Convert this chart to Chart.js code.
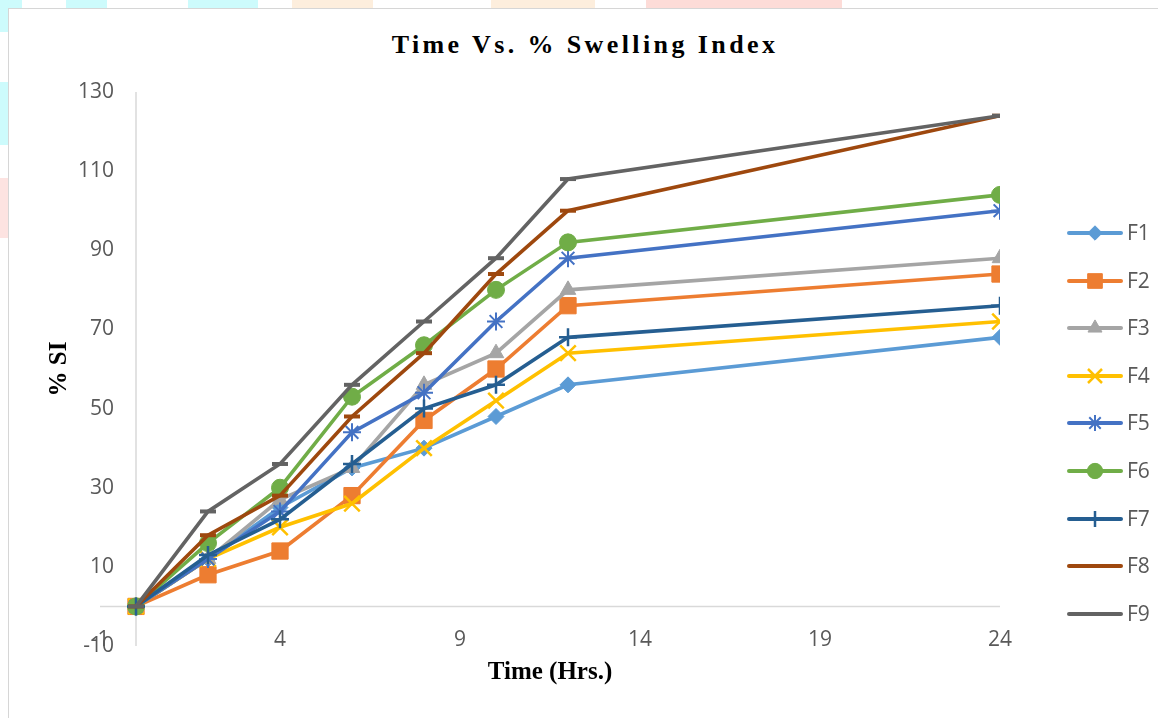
<!DOCTYPE html>
<html>
<head>
<meta charset="utf-8">
<script src="https://cdn.jsdelivr.net/npm/chart.js@4.4.0/dist/chart.umd.min.js"></script>
<style>
  body { margin: 0; background: #fff; width: 1158px; height: 718px; overflow: hidden; position: relative; }
  .strip { position: absolute; }
  #frame { position: absolute; left: 8px; top: 8px; width: 1170px; height: 730px; border: 1px solid #d6d6d6; background: #fff; }
  #titulo { position: absolute; left: 0; top: 30px; width: 1170px; text-align: center; line-height: 30px;
            font: bold 26px "Liberation Serif", "Times New Roman", serif; letter-spacing: 3.4px; color: #000; }
  #grafico { position: absolute; left: 0; top: 0; }
  #legenda { position: absolute; left: 1066px; top: 0; }
  .item { position: absolute; left: 0; height: 24px; width: 92px; }
  .item canvas { position: absolute; left: 0; top: 1px; }
  .item span { position: absolute; left: 61px; top: -3px; font: 21px "Open Sans", sans-serif; color: #595959; }
</style>
</head>
<body>
<div class="strip" style="left:0;top:0;width:22px;height:8px;background:#cdfbfc"></div>
<div class="strip" style="left:66px;top:0;width:41px;height:8px;background:#cdfbfc"></div>
<div class="strip" style="left:188px;top:0;width:70px;height:8px;background:#cdfbfc"></div>
<div class="strip" style="left:292px;top:0;width:81px;height:8px;background:#fdeedd"></div>
<div class="strip" style="left:491px;top:0;width:104px;height:8px;background:#fdeedd"></div>
<div class="strip" style="left:646px;top:0;width:196px;height:8px;background:#fddcd8"></div>
<div class="strip" style="left:0;top:0;width:8px;height:32px;background:#cdfbfc"></div>
<div class="strip" style="left:0;top:82px;width:8px;height:63px;background:#cdfbfc"></div>
<div class="strip" style="left:0;top:178px;width:8px;height:60px;background:#fde3e1"></div>
<div id="frame"></div>
<div id="titulo">Time Vs. % Swelling Index</div>
<canvas id="grafico" width="1158" height="718"></canvas>
<div id="legenda"></div>
<script>
// Dados (tempo em horas x % SI)
const tempos = [0, 2, 4, 6, 8, 10, 12, 24];
const nomes = ["F1", "F2", "F3", "F4", "F5", "F6", "F7", "F8", "F9"];
const F1 = [0, 12, 25, 35, 40, 48, 56, 68];
const F2 = [0, 8, 14, 28, 47, 60, 76, 84];
const F3 = [0, 12, 27, 35, 56, 64, 80, 88];
const F4 = [0, 12, 20, 26, 40, 52, 64, 72];
const F5 = [0, 12, 24, 44, 54, 72, 88, 100];
const F6 = [0, 16, 30, 53, 66, 80, 92, 104];
const F7 = [0, 13, 22, 36, 50, 56, 68, 76];
const F8 = [0, 18, 28, 48, 64, 84, 100, 124];
const F9 = [0, 24, 36, 56, 72, 88, 108, 124];
const series = [F1, F2, F3, F4, F5, F6, F7, F8, F9];
const xTicks = [-1, 4, 9, 14, 19, 24];
const yTicks = [-10, 10, 30, 50, 70, 90, 110, 130];

// Estilo de cada série
const cores = ["#5B9BD5", "#ED7D31", "#A5A5A5", "#FFC000", "#4472C4", "#70AD47", "#255E91", "#9E480E", "#636363"];
const marcadores = ["rectRot", "rect", "triangle", "crossRot", "star", "circle", "cross", "line", "line"];
const raios = [8, 11.5, 9, 11, 9, 8.5, 9, 8, 8];
const bordas = [1, 1, 1, 2.5, 2, 1, 2.5, 4, 4];

const datasets = series.map((vals, i) => ({
    label: nomes[i],
    data: vals.map((v, j) => ({ x: tempos[j], y: v })),
    showLine: true,
    borderColor: cores[i],
    backgroundColor: cores[i],
    borderWidth: 3.6,
    pointStyle: marcadores[i],
    pointRadius: raios[i],
    pointBorderWidth: bordas[i],
    pointBackgroundColor: cores[i],
    pointBorderColor: cores[i],
    order: nomes.length - i
}));

// Linhas dos eixos em x=0 e y=0 (estilo Excel)
const linhasEixos = {
    id: "linhasEixos",
    afterLayout(chart) {
        // os rótulos ficam sobre a área do gráfico, então não recortar
        Object.values(chart.scales).forEach(s => { s._computeLabelArea = () => undefined; });
    },
    beforeDatasetsDraw(chart) {
        const { ctx, chartArea, scales } = chart;
        const x0 = scales.x.getPixelForValue(0);
        const y0 = scales.y.getPixelForValue(0);
        ctx.save();
        ctx.strokeStyle = "#d9d9d9";
        ctx.lineWidth = 1.5;
        ctx.beginPath();
        ctx.moveTo(x0, chartArea.top);
        ctx.lineTo(x0, chartArea.bottom);
        ctx.moveTo(chartArea.left, y0);
        ctx.lineTo(chartArea.right, y0);
        ctx.stroke();
        ctx.restore();
    }
};

const fonteTicks = { family: "'Open Sans', sans-serif", size: 21 };

new Chart(document.getElementById("grafico"), {
    type: "scatter",
    data: { datasets },
    plugins: [linhasEixos],
    options: {
        responsive: false,
        animation: false,
        layout: { padding: { top: 92, right: 158, left: 0, bottom: 0 } },
        plugins: {
            legend: { display: false },
            tooltip: { enabled: false }
        },
        scales: {
            x: {
                type: "linear",
                min: -1,
                max: 24,
                afterBuildTicks: s => { s.ticks = xTicks.map(v => ({ value: v })); },
                afterFit: s => { s.height = 72; },
                grid: { display: false },
                border: { display: false },
                ticks: { color: "#595959", font: fonteTicks, padding: -27 },
                title: {
                    display: true,
                    text: "Time (Hrs.)",
                    color: "#000",
                    font: { family: "'Liberation Serif', 'Times New Roman', serif", size: 25, weight: "bold" },
                    padding: { top: 0, bottom: 30 }
                }
            },
            y: {
                type: "linear",
                min: -10,
                max: 130,
                afterBuildTicks: s => { s.ticks = yTicks.map(v => ({ value: v })); },
                afterFit: s => { s.width = 100; },
                grid: { display: false },
                border: { display: false },
                ticks: { color: "#595959", font: fonteTicks, padding: -22 },
                title: {
                    display: true,
                    text: "% SI",
                    color: "#000",
                    font: { family: "'Liberation Serif', 'Times New Roman', serif", size: 25, weight: "bold" },
                    padding: { top: 45, bottom: 0 }
                }
            }
        }
    }
});

// Legenda à direita, com linha + marcador
const legenda = document.getElementById("legenda");
const topoLegenda = 233, passoLegenda = 47.6;
nomes.forEach((nome, i) => {
    const item = document.createElement("div");
    item.className = "item";
    item.style.top = (topoLegenda + i * passoLegenda - 12) + "px";
    const c = document.createElement("canvas");
    c.width = 58; c.height = 22;
    const ctx = c.getContext("2d");
    ctx.strokeStyle = cores[i];
    ctx.fillStyle = cores[i];
    ctx.lineWidth = 4;
    ctx.lineCap = "round";
    ctx.beginPath();
    ctx.moveTo(3, 11);
    ctx.lineTo(55, 11);
    ctx.stroke();
    ctx.lineWidth = bordas[i];
    ctx.lineCap = "butt";
    Chart.helpers.drawPoint(ctx, { pointStyle: marcadores[i], radius: raios[i] * 0.9, borderWidth: bordas[i], rotation: 0 }, 29, 11);
    const txt = document.createElement("span");
    txt.textContent = nome;
    item.appendChild(c);
    item.appendChild(txt);
    legenda.appendChild(item);
});
</script>
</body>
</html>
